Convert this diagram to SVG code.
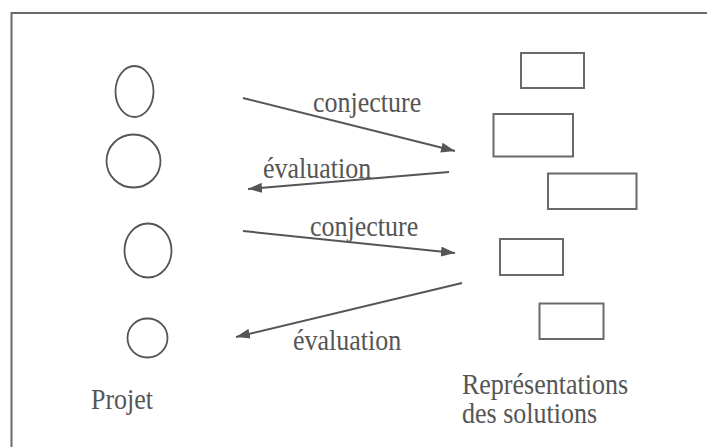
<svg xmlns="http://www.w3.org/2000/svg" width="707" height="447" viewBox="0 0 707 447">
  <style>
    .frame { fill: none; stroke: #6a6a6a; stroke-width: 2; }
    .proj { fill: none; stroke: #555; stroke-width: 1.8; }
    .sol { fill: none; stroke: #6a6a6a; stroke-width: 2; }
    .arrow { fill: none; stroke: #555; stroke-width: 2; marker-end: url(#head); }
    .lbl { font-family: "Liberation Serif", "Times New Roman", serif; font-size: 26px; fill: #555; }
  </style>
  <defs>
    <marker id="head" viewBox="0 0 14 10" refX="14" refY="5" markerWidth="14" markerHeight="10" markerUnits="userSpaceOnUse" orient="auto">
      <path d="M0,0 L14,5 L0,10 Z" fill="#555"/>
    </marker>
  </defs>
  <rect width="707" height="447" fill="#fff"/>
  <path class="frame" d="M11.5,460 L11.5,13 L720,13"/>

  <!-- project states -->
  <g id="projet-1"><ellipse class="proj" cx="134.5" cy="91.5" rx="19" ry="25.5"/></g>
  <g id="projet-2"><ellipse class="proj" cx="133.5" cy="161" rx="27" ry="26.5"/></g>
  <g id="projet-3"><ellipse class="proj" cx="148" cy="250.5" rx="23.5" ry="27"/></g>
  <g id="projet-4"><ellipse class="proj" cx="147.5" cy="338" rx="20" ry="19.5"/></g>
  <g id="projet-label"><text class="lbl" transform="translate(91,409) scale(1,1.12)">Projet</text></g>

  <!-- solution representations -->
  <g id="solution-1"><rect class="sol" x="521" y="53" width="63" height="35"/></g>
  <g id="solution-2"><rect class="sol" x="493.5" y="114" width="79.5" height="42.5"/></g>
  <g id="solution-3"><rect class="sol" x="548" y="173.5" width="88.5" height="35.5"/></g>
  <g id="solution-4"><rect class="sol" x="500" y="239" width="63" height="36"/></g>
  <g id="solution-5"><rect class="sol" x="539.5" y="303.5" width="64" height="35.5"/></g>
  <g id="solutions-label">
    <text class="lbl" transform="translate(462,394) scale(1,1.12)">Représentations</text>
    <text class="lbl" transform="translate(462,423) scale(1,1.12)">des solutions</text>
  </g>

  <!-- conjecture / evaluation cycle -->
  <g id="connectors">
    <line class="arrow" x1="243" y1="98" x2="455" y2="151"/>
    <line class="arrow" x1="449" y1="172" x2="248" y2="189"/>
    <line class="arrow" x1="243" y1="231" x2="455" y2="253"/>
    <line class="arrow" x1="462" y1="283" x2="236" y2="337"/>
    <text class="lbl" transform="translate(313,112) scale(1,1.12)">conjecture</text>
    <text class="lbl" transform="translate(263,178) scale(1,1.12)">évaluation</text>
    <text class="lbl" transform="translate(310,236) scale(1,1.12)">conjecture</text>
    <text class="lbl" transform="translate(293,350) scale(1,1.12)">évaluation</text>
  </g>
</svg>
